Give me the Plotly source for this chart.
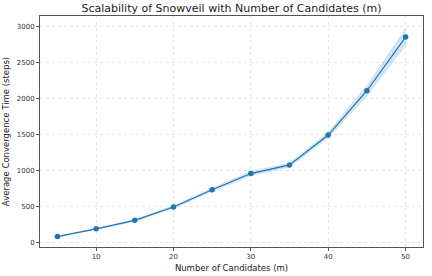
import plotly.graph_objects as go

m_values = [5, 10, 15, 20, 25, 30, 35, 40, 45, 50]
avg_steps = [80, 187, 305, 490, 730, 955, 1075, 1490, 2105, 2850]
std_steps = [12, 14, 18, 22, 30, 35, 35, 45, 80, 125]

x_ticks = [10, 20, 30, 40, 50]
y_ticks = [0, 500, 1000, 1500, 2000, 2500, 3000]

blue = "#1f77b4"
upper = [a + s for a, s in zip(avg_steps, std_steps)]
lower = [a - s for a, s in zip(avg_steps, std_steps)]

fig = go.Figure()
fig.add_trace(go.Scatter(x=m_values, y=upper, mode="lines", line=dict(width=0, color=blue),
                         showlegend=False, hoverinfo="skip"))
fig.add_trace(go.Scatter(x=m_values, y=lower, mode="lines", line=dict(width=0, color=blue),
                         fill="tonexty", fillcolor="rgba(31,119,180,0.2)",
                         showlegend=False, hoverinfo="skip"))
fig.add_trace(go.Scatter(x=m_values, y=avg_steps, mode="lines+markers",
                         line=dict(color=blue, width=1.2),
                         marker=dict(color=blue, size=5.5), showlegend=False))

axis_common = dict(
    showline=True, linecolor="#555", linewidth=1, mirror=True,
    showgrid=True, gridcolor="rgba(0,0,0,0.1)", griddash="dot", gridwidth=0.7,
    ticks="outside", ticklen=3, tickcolor="#555", tickwidth=1,
    tickfont=dict(family="DejaVu Sans", size=7, color="#333"),
    zeroline=False, automargin=False,
)

fig.update_layout(
    template="none",
    width=432, height=276,
    margin=dict(l=40, r=9, t=16, b=29),
    paper_bgcolor="white", plot_bgcolor="white",
    title=dict(text="Scalability of Snowveil with Number of Candidates (m)",
               font=dict(family="DejaVu Sans", size=11, color="#222"),
               x=0.5, xref="paper", xanchor="center", y=1, yref="container", yanchor="top", pad=dict(t=4)),
    xaxis=dict(range=[2.75, 52.25], tickvals=x_ticks,
               title=dict(text="Number of Candidates (m)", standoff=4,
                          font=dict(family="DejaVu Sans", size=8.5, color="#222")),
               **axis_common),
    yaxis=dict(range=[-65, 3143], tickvals=y_ticks,
               title=dict(text="Average Convergence Time (steps)", standoff=5,
                          font=dict(family="DejaVu Sans", size=8.5, color="#222")),
               **axis_common),
)

fig.write_html("out.html", config={"displayModeBar": False},
               post_script="document.body.style.margin='0px';")
